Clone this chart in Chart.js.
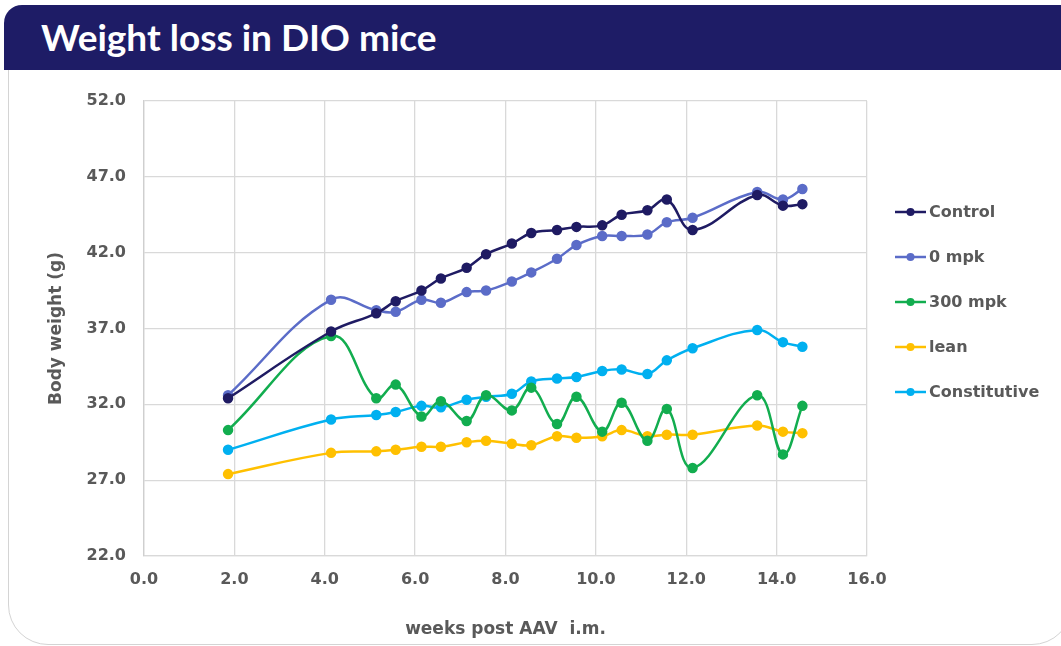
<!DOCTYPE html>
<html>
<head>
<meta charset="utf-8">
<script src="https://cdn.jsdelivr.net/npm/chart.js@4"></script>
<style>
  html, body { margin: 0; padding: 0; background: #fff; }
  body { width: 1061px; height: 646px; position: relative; overflow: hidden; }
  .frame {
    position: absolute; left: 8px; top: 5px; width: 1062px; height: 638px;
    border: 1.5px solid #d4d4d4; border-radius: 40px;
  }
  .titlebar {
    position: absolute; left: 4px; top: 5px; width: 1080px; height: 65px;
    background: #1e1c66; border-radius: 18px 18px 0 0;
  }
  .titlebar span {
    position: absolute; left: 37px; top: 9px;
    font-family: Lato, sans-serif; font-weight: 700; font-size: 37px; color: #fff;
  }
  #weightChart { position: absolute; left: 0; top: 0; }
</style>
</head>
<body>
<div class="frame"></div>
<div class="titlebar"><span>Weight loss in DIO mice</span></div>
<canvas id="weightChart" width="1061" height="646"></canvas>
<script>
// weeks post AAV i.m.
const weeks = [1.86, 4.14, 5.14, 5.57, 6.14, 6.57, 7.14, 7.57, 8.14, 8.57,
               9.14, 9.57, 10.14, 10.57, 11.14, 11.57, 12.14, 13.57, 14.14, 14.57];

// body weight (g)
const control      = [32.4, 36.8, 38.0, 38.8, 39.5, 40.3, 41.0, 41.9, 42.6, 43.3,
                      43.5, 43.7, 43.8, 44.5, 44.8, 45.5, 43.5, 45.8, 45.1, 45.2];
const mpk0         = [32.6, 38.9, 38.2, 38.1, 38.9, 38.7, 39.4, 39.5, 40.1, 40.7,
                      41.6, 42.5, 43.1, 43.1, 43.2, 44.0, 44.3, 46.0, 45.5, 46.2];
const mpk300       = [30.3, 36.5, 32.4, 33.3, 31.2, 32.2, 30.9, 32.6, 31.6, 33.1,
                      30.7, 32.5, 30.2, 32.1, 29.6, 31.7, 27.8, 32.6, 28.7, 31.9];
const lean         = [27.4, 28.8, 28.9, 29.0, 29.2, 29.2, 29.5, 29.6, 29.4, 29.3,
                      29.9, 29.8, 29.9, 30.3, 29.9, 30.0, 30.0, 30.6, 30.2, 30.1];
const constitutive = [29.0, 31.0, 31.3, 31.5, 31.9, 31.8, 32.3, 32.5, 32.7, 33.5,
                      33.7, 33.8, 34.2, 34.3, 34.0, 34.9, 35.7, 36.9, 36.1, 35.8];

const seriesNames  = ['Control', '0 mpk', '300 mpk', 'lean', 'Constitutive'];
const seriesValues = [control, mpk0, mpk300, lean, constitutive];
const seriesColors = ['#1f1b63', '#5b6cc8', '#12ad4f', '#ffc000', '#00b0f0'];

const xTicks = [0, 2, 4, 6, 8, 10, 12, 14, 16];
const yTicks = [22, 27, 32, 37, 42, 47, 52];

const textGray = '#595959';
const gridGray = '#d9d9d9';

// legend drawn as line + marker, like the office chart
const lineLegend = {
    id: 'lineLegend',
    afterDraw(chart) {
        const ctx = chart.ctx;
        const x0 = 895, top = 212, step = 45;
        ctx.save();
        chart.data.datasets.forEach((ds, i) => {
            const y = top + i * step;
            ctx.strokeStyle = ds.borderColor;
            ctx.lineWidth = 2.5;
            ctx.beginPath();
            ctx.moveTo(x0, y);
            ctx.lineTo(x0 + 31, y);
            ctx.stroke();
            ctx.fillStyle = ds.borderColor;
            ctx.beginPath();
            ctx.arc(x0 + 15.5, y, 4, 0, Math.PI * 2);
            ctx.fill();
            ctx.fillStyle = textGray;
            ctx.font = 'bold 16px "DejaVu Sans"';
            ctx.textBaseline = 'middle';
            ctx.textAlign = 'left';
            ctx.fillText(ds.label, x0 + 34, y + 1);
        });
        ctx.restore();
    }
};

const ctx = document.getElementById('weightChart').getContext('2d');

new Chart(ctx, {
    type: 'line',
    data: {
        datasets: seriesNames.map((name, i) => ({
            label: name,
            data: weeks.map((w, j) => ({ x: w, y: seriesValues[i][j] })),
            borderColor: seriesColors[i],
            backgroundColor: seriesColors[i],
            borderWidth: 2.5,
            pointRadius: 4,
            pointHoverRadius: 4,
            tension: 0.4,
            fill: false
        }))
    },
    options: {
        responsive: false,
        animation: false,
        devicePixelRatio: 1,
        layout: {
            padding: { left: 0, top: 101, right: 194, bottom: 0 }
        },
        plugins: {
            legend: { display: false },
            tooltip: { enabled: false }
        },
        scales: {
            x: {
                type: 'linear',
                min: 0,
                max: 16,
                afterBuildTicks: (scale) => { scale.ticks = xTicks.map(v => ({ value: v })); },
                afterFit: (scale) => { scale.height = 90; },
                grid: { color: gridGray, lineWidth: 1.3, drawTicks: false },
                border: { color: gridGray, width: 1.3 },
                ticks: {
                    color: textGray,
                    padding: 14,
                    font: { family: 'DejaVu Sans', size: 16, weight: 'bold' },
                    callback: (v) => v.toFixed(1)
                },
                title: {
                    display: true,
                    text: 'weeks post AAV  i.m.',
                    color: textGray,
                    font: { family: 'DejaVu Sans', size: 17, weight: 'bold' },
                    padding: { top: 0, bottom: 6 }
                }
            },
            y: {
                min: 22,
                max: 52,
                afterBuildTicks: (scale) => { scale.ticks = yTicks.map(v => ({ value: v })); },
                afterFit: (scale) => { scale.width = 144; },
                grid: { color: gridGray, lineWidth: 1.3, drawTicks: false },
                border: { color: '#cfcfcf', width: 1.3 },
                ticks: {
                    color: textGray,
                    padding: 18,
                    font: { family: 'DejaVu Sans', size: 16, weight: 'bold' },
                    callback: (v) => v.toFixed(1)
                },
                title: {
                    display: true,
                    text: 'Body weight (g)',
                    color: textGray,
                    font: { family: 'DejaVu Sans', size: 17, weight: 'bold' },
                    padding: { top: 46, bottom: 0 }
                }
            }
        }
    },
    plugins: [lineLegend]
});
</script>
</body>
</html>
